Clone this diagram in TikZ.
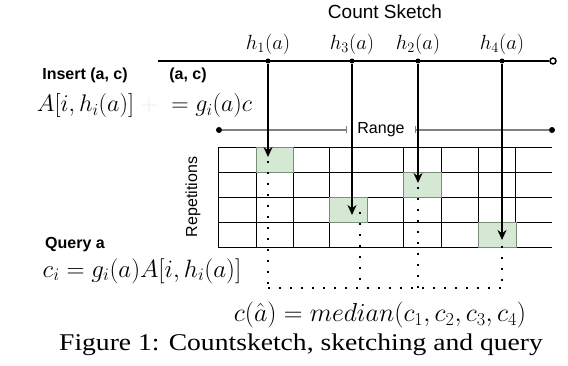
\RequirePackage{fix-cm}
\documentclass[tikz,border=0pt]{standalone}
\usepackage{fontspec}
\newfontfamily\arialfont{Liberation Sans}
\newfontfamily\timesfont[FakeStretch=1.15]{Liberation Serif}
\usetikzlibrary{positioning, arrows.meta}
\definecolor{cellgreen}{HTML}{D5E8D4}
\definecolor{cellborder}{HTML}{7A8F79}

\begin{document}
\begin{tikzpicture}[
		x=1pt, y=-1pt,
		>={Stealth[round]},
		title/.style={font=\arialfont\fontsize{19}{22}\selectfont},
		tag/.style={font=\arialfont\bfseries\fontsize{16}{19}\selectfont},
		axis/.style={font=\arialfont\fontsize{16}{19}\selectfont},
		eq/.style={font=\fontsize{25}{29}\selectfont},
		hash/.style={font=\fontsize{20.5}{24}\selectfont},
		pin/.style={circle, fill=black, inner sep=0pt, minimum size=5pt},
		hit/.style={-{Stealth[length=10pt, width=9pt]}, line width=2pt},
		trace/.style={line width=2pt, dash pattern=on 2pt off 9pt},
		cell/.style={fill=cellgreen, draw=cellborder, line width=0.8pt, inner sep=0pt,
			minimum width=37.5pt, minimum height=25pt, anchor=north west}
		]
		\useasboundingbox (0,0) rectangle (568,366);
		
		% --- Title and hash line ---
		\node[title] (title) at (385,12) {Count Sketch};
		\coordinate (ks0) at (158,61);
		\node[circle, draw, fill=white, line width=1.5pt, inner sep=0pt, minimum size=6pt] (ks1) at (553,61) {};
		\draw[line width=1.5pt] (ks0) -- (ks1);
		
		% --- Range ---
		\node[pin, minimum size=6pt] (r0) at (219,130) {};
		\node[pin, minimum size=6pt] (r1) at (552,130) {};
		\node[axis, inner xsep=10pt, inner ysep=1pt] (range) at (381,130) {Range};
		\draw[gray, line width=1.2pt, -{Bar[width=7pt]}] (r0) -- (range.west);
		\draw[gray, line width=1.2pt, -{Bar[width=7pt]}] (r1) -- (range.east);
		
		% --- Sketch table ---
		\foreach \y in {147,172,197,222,247}
			\draw[line width=0.8pt] (218,\y) -- (552,\y);
		\foreach \x in {218,256,293,329,403,441,478,515}
			\draw[line width=0.8pt] (\x,147) -- (\x,247);
		\foreach \n/\x/\y in {1/255.5/147, 2/403/172, 3/329/197, 4/478/222}
			\node[cell] (c\n) at (\x,\y) {};
		\node[axis, rotate=90] (reps) at (193,197) {Repetitions};
		
		% --- Hashes, updates and reads ---
		\coordinate (q0) at (268,288);
		\coordinate (q9) at (502,288);
		\draw[trace] (q0) -- (q9);
		\foreach \n/\x/\y/\xd/\yd in {1/268/157/268/161, 3/352/215/360/212, 2/418/183/418/187, 4/502/240/502/246} {
			\node[pin] (h\n) at (\x,61) {};
			\node[hash, above=0pt of h\n] (l\n) {$h_\n(a)$};
			\coordinate (t\n) at (\x,\y);
			\coordinate (d\n) at (\xd,\yd);
			\coordinate (b\n) at (\xd,288);
			\draw[trace] (d\n) -- (b\n);
			\draw[hit] (h\n) -- (t\n);
		}
		
		% --- Insert and query ---
		\node[tag] (ins) at (85,75) {Insert (a, c)};
		\node[tag] (pair) at (188,75) {(a, c)};
		\node[eq, font=\fontsize{24}{28}\selectfont] (upd) at (144.5,106) {$A[i,h_i(a)] \mathrel{\textcolor{black!8}{+}\;=} g_i(a)c$};
		\node[tag] (qry) at (75,245) {Query a};
		\node[eq] (est) at (142,271) {$c_i = g_i(a)A[i,h_i(a)]$};
		\node[eq, font=\fontsize{26}{30}\selectfont, inner sep=0pt] (med) at (380,315) {$c(\hat{a}) = median(c_1,c_2,c_3,c_4)$};
		\node[font=\timesfont\fontsize{24}{28}\selectfont, inner sep=0pt] (cap) at (301,345) {Figure 1: Countsketch, sketching and query};
		
	\end{tikzpicture}
\end{document}
